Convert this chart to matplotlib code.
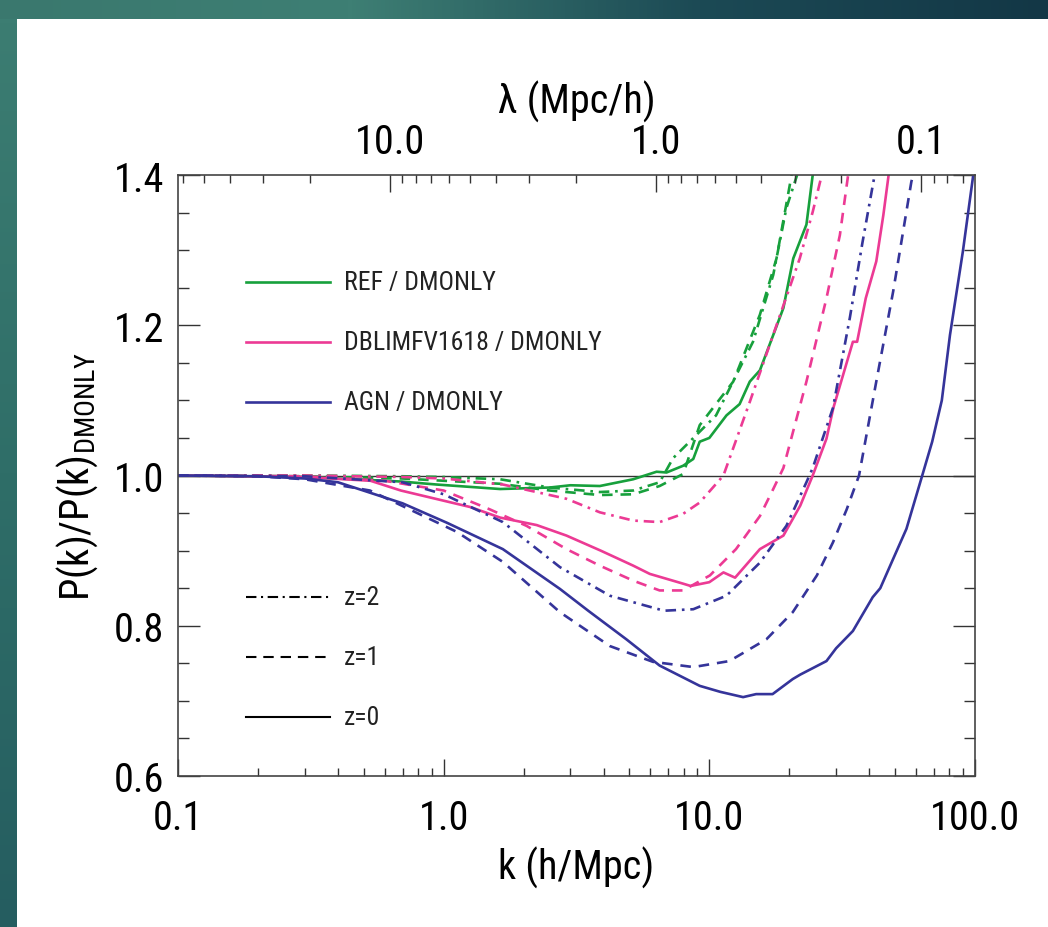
import numpy as np
import matplotlib
matplotlib.use("Agg")
import matplotlib.pyplot as plt
from matplotlib import font_manager

# look for a narrow sans (the original uses Helvetica Narrow)
ttf = font_manager.fontManager.ttflist
names = {f.name for f in ttf}
narrow = None
for cand in ["Liberation Sans Narrow", "Roboto Condensed", "Open Sans Condensed", "Noto Sans Condensed"]:
    if cand in names:
        narrow = cand
        break
stretch = "normal"
if narrow is None:
    for fam in ["Roboto", "Noto Sans", "Open Sans"]:
        if any(f.name == fam and f.stretch in ("condensed", "semi-condensed", 75, 87) for f in ttf):
            narrow = fam
            stretch = "condensed"
            break

if narrow is not None:
    plt.rcParams["font.family"] = [narrow, "Liberation Sans", "DejaVu Sans"]
    plt.rcParams["font.stretch"] = stretch
    TICK_FS, LAB_FS, LEG_FS = 29, 29, 18.5
else:
    plt.rcParams["font.family"] = ["Liberation Sans", "DejaVu Sans"]
    TICK_FS, LAB_FS, LEG_FS = 26, 26, 15
plt.rcParams["mathtext.default"] = "regular"

GREEN = "#17a03c"
PINK = "#ec3a94"
BLUE = "#35349a"

# REF / DMONLY
ref_z0_k = [0.1, 0.3, 0.69, 0.94, 1.63, 2.51, 3.0, 3.87, 5.17, 6.33, 6.9, 7.97, 8.7, 9.2, 10.0, 11.6, 13.0, 14.2, 15.5, 17.4, 19.0, 20.7, 23.2, 24.5]
ref_z0_r = [1.0, 0.998, 0.992, 0.988, 0.982, 0.984, 0.987, 0.986, 0.995, 1.005, 1.004, 1.013, 1.022, 1.045, 1.05, 1.08, 1.095, 1.125, 1.14, 1.187, 1.223, 1.289, 1.334, 1.4]
ref_z1_k = [0.1, 0.3, 0.7, 1.0, 1.63, 2.51, 3.87, 5.17, 6.5, 7.97, 9.2, 12.3, 15.5, 17.9, 20.4]
ref_z1_r = [1.0, 0.999, 0.996, 0.993, 0.989, 0.980, 0.974, 0.975, 0.986, 1.002, 1.067, 1.125, 1.214, 1.289, 1.4]
ref_z2_k = [0.1, 0.3, 0.7, 1.0, 1.63, 2.51, 3.87, 5.17, 6.5, 7.3, 10.6, 14.6, 17.4, 19.5, 21.4]
ref_z2_r = [1.0, 1.0, 0.999, 0.998, 0.995, 0.984, 0.978, 0.980, 0.991, 1.023, 1.08, 1.178, 1.267, 1.356, 1.4]

# DBLIMFV1618 / DMONLY
dbl_z0_k = [0.1, 0.3, 0.53, 0.69, 1.26, 1.63, 2.24, 2.9, 3.9, 5.17, 5.97, 7.97, 8.5, 10.0, 11.3, 12.5, 15.5, 19.0, 22.0, 24.5, 27.6, 29.3, 34.7, 36.0, 38.8, 42.5, 45.2, 47.3]
dbl_z0_r = [1.0, 0.998, 0.993, 0.980, 0.958, 0.944, 0.934, 0.920, 0.900, 0.880, 0.869, 0.856, 0.853, 0.858, 0.871, 0.864, 0.902, 0.920, 0.960, 1.0, 1.049, 1.09, 1.178, 1.178, 1.236, 1.285, 1.347, 1.4]
dbl_z1_k = [0.1, 0.3, 0.6, 1.0, 1.49, 2.05, 2.9, 3.87, 5.17, 6.5, 7.97, 10.05, 12.6, 15.5, 17.4, 19.0, 23.2, 27.6, 31.0, 33.3]
dbl_z1_r = [1.0, 0.999, 0.993, 0.980, 0.955, 0.933, 0.902, 0.880, 0.860, 0.847, 0.847, 0.867, 0.902, 0.946, 0.982, 1.01, 1.125, 1.236, 1.32, 1.4]
dbl_z2_k = [0.1, 0.3, 0.7, 1.0, 1.67, 2.9, 3.87, 5.17, 6.5, 7.97, 9.2, 11.3, 14.2, 17.9, 21.9, 24.5, 26.5]
dbl_z2_r = [1.0, 1.0, 0.998, 0.996, 0.988, 0.969, 0.951, 0.940, 0.938, 0.949, 0.964, 1.0, 1.098, 1.2, 1.289, 1.351, 1.4]

# AGN / DMONLY
agn_z0_k = [0.1, 0.2, 0.3, 0.4, 0.7, 1.03, 1.67, 2.74, 3.5, 4.87, 6.5, 9.2, 11.0, 13.4, 15.0, 17.3, 20.6, 22.0, 27.6, 30.0, 34.7, 41.2, 44.0, 49.2, 55.2, 63.3, 69.0, 75.0, 80.5, 90.0, 98.5]
agn_z0_r = [1.0, 0.999, 0.996, 0.991, 0.963, 0.937, 0.902, 0.849, 0.820, 0.782, 0.747, 0.720, 0.712, 0.705, 0.709, 0.709, 0.729, 0.735, 0.753, 0.770, 0.793, 0.838, 0.850, 0.889, 0.929, 1.0, 1.045, 1.10, 1.187, 1.298, 1.4]
agn_z1_k = [0.1, 0.2, 0.3, 0.528, 1.12, 1.67, 2.74, 4.22, 6.13, 8.7, 11.9, 16.4, 20.6, 25.4, 29.2, 32.9, 36.6, 42.5, 49.2, 57.6, 58.5]
agn_z1_r = [1.0, 0.999, 0.995, 0.980, 0.925, 0.885, 0.818, 0.773, 0.752, 0.745, 0.753, 0.782, 0.818, 0.867, 0.911, 0.955, 1.0, 1.125, 1.245, 1.391, 1.4]
agn_z2_k = [0.1, 0.3, 0.7, 1.0, 1.67, 2.74, 4.22, 6.75, 8.7, 11.6, 15.5, 19.5, 23.2, 24.5, 29.2, 33.8, 37.7, 41.9]
agn_z2_r = [1.0, 0.999, 0.991, 0.975, 0.938, 0.878, 0.840, 0.820, 0.822, 0.840, 0.884, 0.933, 0.991, 1.01, 1.09, 1.21, 1.31, 1.4]

series = [
    (ref_z0_k, ref_z0_r, GREEN, "-"), (ref_z1_k, ref_z1_r, GREEN, "--"), (ref_z2_k, ref_z2_r, GREEN, "-."),
    (dbl_z0_k, dbl_z0_r, PINK, "-"), (dbl_z1_k, dbl_z1_r, PINK, "--"), (dbl_z2_k, dbl_z2_r, PINK, "-."),
    (agn_z0_k, agn_z0_r, BLUE, "-"), (agn_z1_k, agn_z1_r, BLUE, "--"), (agn_z2_k, agn_z2_r, BLUE, "-."),
]
dash_map = {"-": None, "--": (4, 3), "-.": (4, 2.2, 1, 2.2)}

fig = plt.figure(figsize=(10.48, 9.28), dpi=100)
fig.patch.set_facecolor("white")

# teal frame at top and left
top = fig.add_axes([0, 1 - 20 / 928, 1, 20 / 928])
top.imshow(np.linspace(0, 1, 256)[None, :], aspect="auto", extent=(0, 1, 0, 1),
           cmap=matplotlib.colors.LinearSegmentedColormap.from_list("tb", ["#3a786e", "#3e7f74", "#1c4a55", "#133746"]))
top.axis("off")
left = fig.add_axes([0, 0, 17 / 1048, 1 - 20 / 928])
left.imshow(np.linspace(0, 1, 256)[:, None], aspect="auto", extent=(0, 1, 0, 1),
            cmap=matplotlib.colors.LinearSegmentedColormap.from_list("lb", ["#3c7d72", "#2f6e68", "#255d60"]))
left.axis("off")

ax = fig.add_axes([178 / 1048, 1 - 777 / 928, 797 / 1048, 601 / 928])
for k, r, c, ls in series:
    line, = ax.plot(k, r, color=c, lw=1.9, solid_joinstyle="round")
    if dash_map[ls] is not None:
        line.set_dashes(dash_map[ls])

ax.axhline(1.0, color="#333333", lw=1.0, zorder=0)
ax.set_xscale("log")
ax.set_xlim(0.1, 100)
ax.set_ylim(0.6, 1.4)
ax.set_xticks([0.1, 1, 10, 100])
ax.set_xticklabels(["0.1", "1.0", "10.0", "100.0"])
ax.set_yticks([0.6, 0.8, 1.0, 1.2, 1.4])
ax.set_yticklabels(["0.6", "0.8", "1.0", "1.2", "1.4"])
ax.set_yticks(np.arange(0.6, 1.41, 0.05), minor=True)
ax.tick_params(which="both", direction="in", top=False, right=True, labelsize=TICK_FS, color="#333333", width=1.0)
ax.tick_params(axis="y", which="major", length=16, pad=10)
ax.tick_params(axis="y", which="minor", length=8)
ax.tick_params(axis="x", which="major", length=12, pad=16)
ax.tick_params(axis="x", which="minor", length=6)
for s in ax.spines.values():
    s.set_color("#444444")
    s.set_linewidth(1.2)
ax.set_xlabel("k (h/Mpc)", fontsize=LAB_FS, labelpad=6)
ax.set_ylabel(r"P(k)/P(k)$_{DMONLY}$", fontsize=LAB_FS, labelpad=10)

# top axis: wavelength lambda = 2 pi / k
lam_major = [10.0, 1.0, 0.1]
lam_minor = [60, 50, 40, 30, 20, 9, 8, 7, 6, 5, 4, 3, 2, 0.9, 0.8, 0.7, 0.6, 0.5, 0.4, 0.3, 0.2, 0.09, 0.08, 0.07]
tx = ax.twiny()
tx.set_xscale("log")
tx.set_xlim(0.1, 100)
tx.set_xticks([2 * np.pi / l for l in lam_major])
tx.set_xticklabels(["10.0", "1.0", "0.1"])
tx.set_xticks([2 * np.pi / l for l in lam_minor], minor=True)
tx.set_xticklabels([], minor=True)
tx.tick_params(which="both", direction="in", labelsize=TICK_FS, color="#333333", width=1.0)
tx.tick_params(which="major", length=12, pad=10)
tx.tick_params(which="minor", length=6)
tx.set_xlabel("λ (Mpc/h)", fontsize=LAB_FS, labelpad=7)
for s in tx.spines.values():
    s.set_visible(False)

# legends drawn by hand
leg_models = ["REF / DMONLY", "DBLIMFV1618 / DMONLY", "AGN / DMONLY"]
leg_colors = [GREEN, PINK, BLUE]
leg_z = ["z=2", "z=1", "z=0"]
leg_z_ls = ["-.", "--", "-"]
tr = ax.transAxes
x0, x1, xt = (246 - 178) / 797, (330 - 178) / 797, (344 - 178) / 797
for i, (lab, c) in enumerate(zip(leg_models, leg_colors)):
    yy = (777 - (283 + 60 * i)) / 601
    ax.plot([x0, x1], [yy, yy], transform=tr, color=c, lw=1.9)
    ax.text(xt, yy, lab, transform=tr, fontsize=LEG_FS, va="center", ha="left", color="#222222")
for i, (lab, ls) in enumerate(zip(leg_z, leg_z_ls)):
    yy = (777 - (598 + 60 * i)) / 601
    ln, = ax.plot([x0, x1], [yy, yy], transform=tr, color="black", lw=1.5)
    if dash_map[ls] is not None:
        ln.set_dashes((5, 3.3) if ls == "--" else (5, 2.2, 1, 2.2))
    ax.text(xt, yy, lab, transform=tr, fontsize=LEG_FS, va="center", ha="left", color="#222222")

fig.savefig("out.png", dpi=100)
